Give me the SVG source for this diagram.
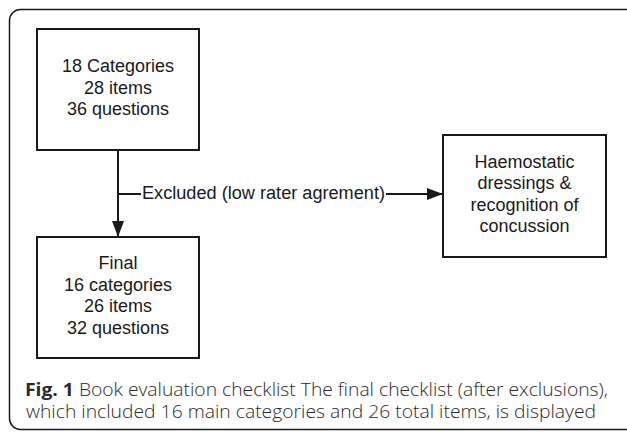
<svg xmlns="http://www.w3.org/2000/svg" width="627" height="432" viewBox="0 0 627 432">
<defs>
<style>
.box{fill:#fff;stroke:#1a1a1a;stroke-width:2}
.t{font-family:"Liberation Sans",Arial,sans-serif;font-size:18px;fill:#1a1a1a;text-anchor:middle}
.lbl{font-family:"Liberation Sans",Arial,sans-serif;font-size:18px;fill:#1a1a1a}
.cap{font-family:"Open Sans","Noto Sans",sans-serif;font-size:18px;font-weight:300;fill:#2b2b2b}
.conn{fill:none;stroke:#1a1a1a;stroke-width:2}
</style>
<marker id="ah" viewBox="0 0 16 12" refX="16" refY="6" markerWidth="16" markerHeight="12" markerUnits="userSpaceOnUse" orient="auto">
<path d="M0,0 L16,6 L0,12 Z" fill="#1a1a1a"/>
</marker>
</defs>
<rect x="9.5" y="9.5" width="630" height="420" rx="11" fill="#fff" stroke="#1a1a1a" stroke-width="1.5"/>
<g id="connectors">
<line class="conn" x1="118" y1="150" x2="118" y2="237" marker-end="url(#ah)"/>
<line class="conn" x1="118" y1="194" x2="141" y2="194"/>
<line class="conn" x1="386" y1="194" x2="443" y2="194" marker-end="url(#ah)"/>
<text class="lbl" x="142" y="198.5" textLength="243" lengthAdjust="spacingAndGlyphs">Excluded (low rater agrement)</text>
</g>
<g id="node-start">
<rect class="box" x="37" y="29" width="162" height="121"/>
<text class="t" x="118" y="72">18 Categories</text>
<text class="t" x="118" y="93.5">28 items</text>
<text class="t" x="118" y="115">36 questions</text>
</g>
<g id="node-final">
<rect class="box" x="37" y="237" width="162" height="121"/>
<text class="t" x="118" y="269">Final</text>
<text class="t" x="118" y="290.5">16 categories</text>
<text class="t" x="118" y="312">26 items</text>
<text class="t" x="118" y="333.5">32 questions</text>
</g>
<g id="node-excluded">
<rect class="box" x="443" y="135" width="163" height="122"/>
<text class="t" x="524.5" y="167.5">Haemostatic</text>
<text class="t" x="524.5" y="189">dressings &amp;</text>
<text class="t" x="524.5" y="210.5">recognition of</text>
<text class="t" x="524.5" y="232">concussion</text>
</g>
<g id="caption">
<text class="cap" x="25" y="396" textLength="583" lengthAdjust="spacingAndGlyphs"><tspan font-weight="bold">Fig. 1</tspan> Book evaluation checklist The final checklist (after exclusions),</text>
<text class="cap" x="26" y="418" textLength="570" lengthAdjust="spacingAndGlyphs">which included 16 main categories and 26 total items, is displayed</text>
</g>
</svg>
